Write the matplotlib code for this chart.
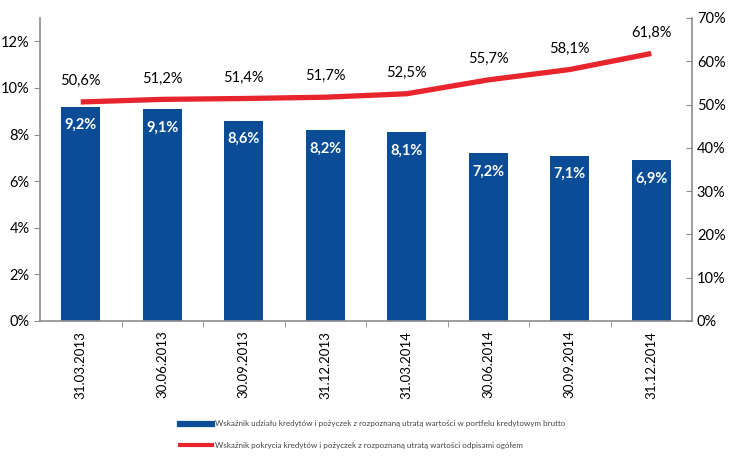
import matplotlib.pyplot as plt
from matplotlib.lines import Line2D

# quarter-end dates and the two ratios (in %)
dates = ["31.03.2013", "30.06.2013", "30.09.2013", "31.12.2013",
         "31.03.2014", "30.06.2014", "30.09.2014", "31.12.2014"]
impaired_share = [9.2, 9.1, 8.6, 8.2, 8.1, 7.2, 7.1, 6.9]
coverage = [50.6, 51.2, 51.4, 51.7, 52.5, 55.7, 58.1, 61.8]

bar_label = "Wskaźnik udziału kredytów i pożyczek z rozpoznaną utratą wartości w portfelu kredytowym brutto"
line_label = "Wskaźnik pokrycia kredytów i pożyczek z rozpoznaną utratą wartości odpisami ogółem"

BLUE = "#0a4d96"
RED = "#e8242c"
GREY = "#8c8c8c"

plt.rcParams["font.family"] = ["Lato", "DejaVu Sans"]

fig = plt.figure(figsize=(7.3, 4.63), dpi=100)
ax = fig.add_axes([40 / 730, 1 - 321 / 463, 652 / 730, 303 / 463])
ax2 = ax.twinx()

x = list(range(len(dates)))
ax.bar(x, impaired_share, width=0.48, color=BLUE, zorder=2)
for xi, v in zip(x, impaired_share):
    ax.text(xi, v - 0.5, f"{v:.1f}%".replace(".", ","), ha="center", va="top",
            color="white", fontsize=10.5, fontweight="bold", zorder=3)

ax2.plot(x, coverage, color=RED, lw=3.8, solid_capstyle="butt", zorder=3)
for xi, v in zip(x, coverage):
    ax2.text(xi, v + 3.2, f"{v:.1f}%".replace(".", ","), ha="center", va="bottom",
             color="black", fontsize=10.5)

ax.set_xlim(-0.5, len(dates) - 0.5)
ax.set_ylim(0, 13)
ax2.set_ylim(0, 70)
ax.set_yticks(range(0, 13, 2))
ax.set_yticklabels([f"{t}%" for t in range(0, 13, 2)])
ax2.set_yticks(range(0, 71, 10))
ax2.set_yticklabels([f"{t}%" for t in range(0, 71, 10)])

ax.set_xticks(x)
ax.set_xticklabels(dates, rotation=90, fontsize=9.5)
ax.set_xticks([i + 0.5 for i in x[:-1]], minor=True)
ax.tick_params(axis="x", which="major", length=0, pad=7)
ax.tick_params(axis="x", which="minor", length=4, color=GREY)

ax.tick_params(axis="y", length=4, color=GREY, labelsize=10.5)
ax2.tick_params(axis="y", length=4, color=GREY, labelsize=10.5, direction="in")

for a in (ax, ax2):
    a.spines["top"].set_visible(False)
    for s in ("left", "right", "bottom"):
        a.spines[s].set_color(GREY)
        a.spines[s].set_linewidth(1.2)
ax.spines["right"].set_visible(False)
ax2.spines["left"].set_visible(False)
ax2.spines["bottom"].set_visible(False)

handles = [Line2D([0], [0], color=BLUE, lw=4.5),
           Line2D([0], [0], color=RED, lw=3)]
fig.legend(handles, [bar_label, line_label], loc="center left",
           bbox_to_anchor=(180 / 730, 1 - 434.5 / 463), frameon=False,
           fontsize=5.8, handlelength=4, handletextpad=0.4,
           labelspacing=1.75, borderpad=0, borderaxespad=0, labelcolor="#444444")

fig.savefig("out.png", dpi=100)
